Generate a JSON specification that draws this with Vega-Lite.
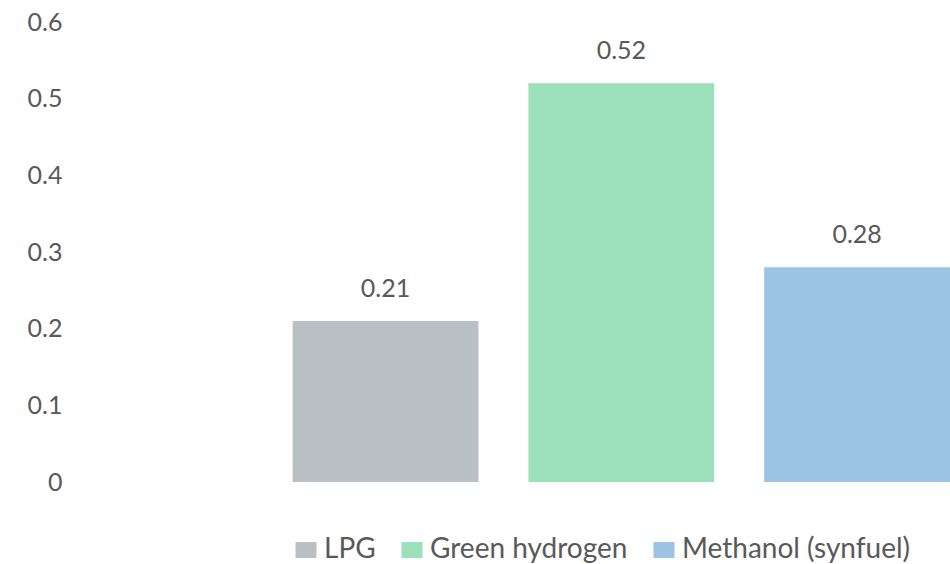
{
  "$schema": "https://vega.github.io/schema/vega-lite/v6.json",
  "autosize": {"type": "none"},
  "width": 870,
  "height": 460,
  "padding": {"left": 80, "top": 22, "right": 0, "bottom": 82},
  "background": "white",
  "config": {
    "view": {"stroke": null},
    "font": "Lato",
    "axis": {"labelFont": "Lato", "labelColor": "#595959"},
    "legend": {"labelFont": "Lato", "labelColor": "#595959"}
  },
  "data": {
    "values": [
      {"fuel": "LPG", "value": 0.21},
      {"fuel": "Green hydrogen", "value": 0.52},
      {"fuel": "Methanol (synfuel)", "value": 0.28}
    ]
  },
  "encoding": {
    "x": {
      "field": "fuel",
      "type": "nominal",
      "sort": null,
      "scale": {"paddingInner": 0.212, "paddingOuter": 0.451, "align": 1},
      "axis": null
    },
    "y": {
      "field": "value",
      "type": "quantitative",
      "scale": {"domain": [0, 0.6], "nice": false, "zero": true},
      "axis": {
        "values": [0, 0.1, 0.2, 0.3, 0.4, 0.5, 0.6],
        "title": null,
        "grid": false,
        "domain": false,
        "ticks": false,
        "labelFontSize": 25,
        "labelPadding": 18,
        "labelExpr": "datum.value == 0 ? '0' : format(datum.value, '.1f')"
      }
    }
  },
  "layer": [
    {
      "mark": {"type": "bar"},
      "encoding": {
        "color": {
          "field": "fuel",
          "type": "nominal",
          "sort": null,
          "scale": {
            "domain": ["LPG", "Green hydrogen", "Methanol (synfuel)"],
            "range": ["#B9C0C3", "#9CDFBB", "#9DC3E4"]
          },
          "legend": {
            "title": null,
            "orient": "none",
            "direction": "horizontal",
            "legendX": 212,
            "legendY": 514,
            "symbolType": "M-1,-0.76H1V0.76H-1Z",
            "symbolSize": 441,
            "symbolStrokeWidth": 0,
            "labelFontSize": 28,
            "labelOffset": 4,
            "columnPadding": 22,
            "labelLimit": 400
          }
        }
      }
    },
    {
      "mark": {"type": "text", "baseline": "alphabetic", "dy": -24, "fontSize": 25, "color": "#595959", "font": "Lato"},
      "encoding": {
        "text": {"field": "value", "type": "quantitative", "format": ".2f"}
      }
    }
  ]
}
